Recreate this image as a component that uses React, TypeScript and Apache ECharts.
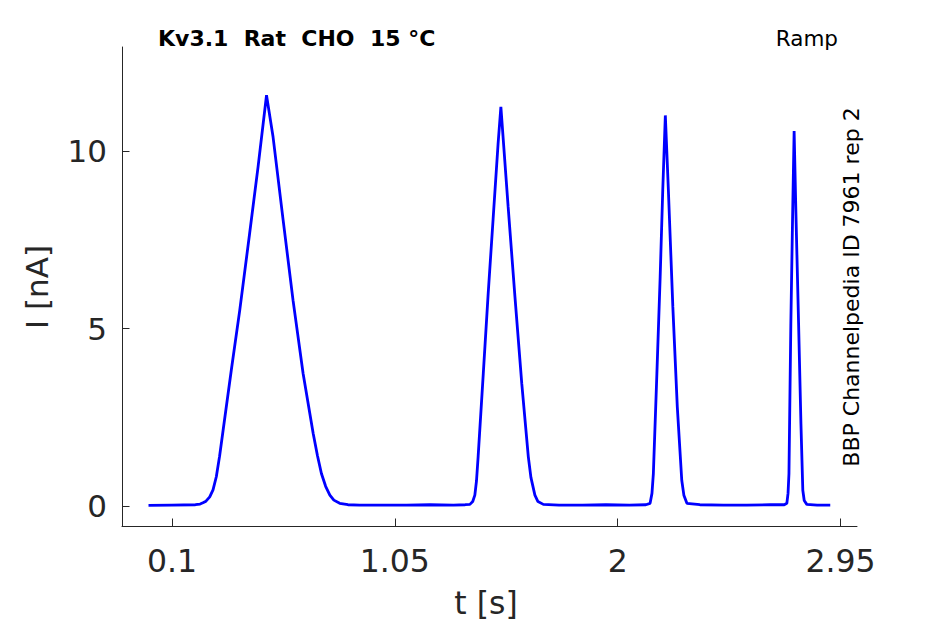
import React, { useEffect, useRef } from "react";
import * as echarts from "echarts";

const tValues = [
  0.0, 0.1, 0.2, 0.22, 0.232, 0.245, 0.261, 0.275, 0.289, 0.303, 0.318, 0.353, 0.389, 0.431, 0.467, 0.503,
  0.531, 0.574, 0.616, 0.659, 0.702, 0.72, 0.737, 0.755, 0.773, 0.79, 0.815, 0.85, 0.9, 1.0, 1.1, 1.2, 1.3,
  1.35, 1.37, 1.382, 1.391, 1.398, 1.405, 1.427, 1.448, 1.469, 1.49, 1.502, 1.533, 1.562, 1.591, 1.619, 1.63,
  1.647, 1.66, 1.683, 1.75, 1.85, 1.95, 2.05, 2.12, 2.138, 2.146, 2.152, 2.167, 2.181, 2.192, 2.203, 2.216,
  2.235, 2.254, 2.273, 2.282, 2.295, 2.35, 2.45, 2.55, 2.65, 2.71, 2.721, 2.726, 2.73, 2.738, 2.745, 2.752,
  2.759, 2.771, 2.781, 2.789, 2.795, 2.806, 2.85, 2.906,
];
const iValues = [
  0.01, 0.02, 0.03, 0.05, 0.085, 0.13, 0.25, 0.45, 0.82, 1.4, 2.13, 3.83, 5.52, 7.68, 9.56, 11.58,
  10.4, 8.05, 5.8, 3.73, 2.04, 1.42, 0.91, 0.55, 0.3, 0.16, 0.07, 0.03, 0.02, 0.02, 0.02, 0.03, 0.02,
  0.03, 0.04, 0.12, 0.3, 0.7, 1.38, 3.73, 6.0, 8.1, 10.2, 11.25, 8.43, 5.89, 3.45, 1.38, 0.8,
  0.3, 0.12, 0.04, 0.02, 0.02, 0.03, 0.02, 0.03, 0.07, 0.35, 0.91, 3.73, 6.46, 8.9, 11.01, 8.9,
  5.61, 2.79, 0.72, 0.3, 0.07, 0.03, 0.02, 0.02, 0.03, 0.03, 0.07, 0.35, 0.91, 5.14, 7.96, 10.57,
  8.43, 5.14, 2.32, 0.44, 0.15, 0.04, 0.02, 0.02,
];
const xTicks = [0.1, 1.05, 2, 2.95];
const yTicks = [0, 5, 10];

const TITLE = "Kv3.1  Rat  CHO  15 °C";
const PROTOCOL = "Ramp";
const SOURCE = "BBP Channelpedia ID 7961 rep 2";
const X_NAME = "t [s]";
const Y_NAME = "I [nA]";

const FONT = "DejaVu Sans";
const AXIS_COLOR = "#262626";

export default function App() {
  const ref = useRef<HTMLDivElement>(null);
  useEffect(() => {
    if (!ref.current) return;
    const chart = echarts.init(ref.current, undefined, { renderer: "svg" });
    const data = tValues.map((t, i) => [t, iValues[i]]);
    chart.setOption({
      animation: false,
      backgroundColor: "#ffffff",
      grid: { left: 122, right: 88, top: 47, bottom: 98, containLabel: false },
      xAxis: {
        type: "value",
        min: -0.113,
        max: 3.02,
        splitLine: { show: false },
        axisLine: { show: true, onZero: false, lineStyle: { color: AXIS_COLOR, width: 1 } },
        axisTick: { show: true, inside: true, length: 7.5, customValues: xTicks, lineStyle: { color: AXIS_COLOR } },
        axisLabel: {
          customValues: xTicks,
          fontSize: 31.5,
          fontFamily: FONT,
          color: AXIS_COLOR,
          margin: 19,
          formatter: (v: number) => String(v),
        },
      },
      yAxis: {
        type: "value",
        min: -0.57,
        max: 12.94,
        splitLine: { show: false },
        axisLine: { show: true, onZero: false, lineStyle: { color: AXIS_COLOR, width: 1 } },
        axisTick: { show: true, inside: true, length: 7.5, customValues: yTicks, lineStyle: { color: AXIS_COLOR } },
        axisLabel: {
          customValues: yTicks,
          fontSize: 31,
          fontFamily: FONT,
          color: AXIS_COLOR,
          margin: 15,
          formatter: (v: number) => String(v),
        },
      },
      series: [
        {
          type: "line",
          data,
          showSymbol: false,
          symbol: "none",
          smooth: false,
          lineStyle: { color: "#0000ff", width: 2.8 },
          clip: true,
        },
      ],
      graphic: [
        {
          type: "text",
          left: 158,
          top: 27,
          style: { text: TITLE, fontSize: 22, fontWeight: "bold", fontFamily: FONT, fill: "#000000" },
        },
        {
          type: "text",
          right: 107,
          top: 27,
          style: { text: PROTOCOL, fontSize: 21.5, fontFamily: FONT, fill: "#000000" },
        },
        {
          type: "text",
          x: 851,
          y: 287,
          rotation: Math.PI / 2,
          style: {
            text: SOURCE,
            fontSize: 22,
            fontFamily: FONT,
            fill: "#000000",
            align: "center",
            verticalAlign: "middle",
          },
        },
        {
          type: "text",
          x: 486,
          y: 603,
          style: {
            text: X_NAME,
            fontSize: 31.5,
            fontFamily: FONT,
            fill: AXIS_COLOR,
            align: "center",
            verticalAlign: "middle",
          },
        },
        {
          type: "text",
          x: 37,
          y: 287,
          rotation: Math.PI / 2,
          style: {
            text: Y_NAME,
            fontSize: 31,
            fontFamily: FONT,
            fill: AXIS_COLOR,
            align: "center",
            verticalAlign: "middle",
          },
        },
      ],
    });
    return () => chart.dispose();
  }, []);
  return (
    <div
      ref={ref}
      style={{ position: "fixed", left: 0, top: 0, width: 945, height: 624, background: "#fff" }}
    />
  );
}
